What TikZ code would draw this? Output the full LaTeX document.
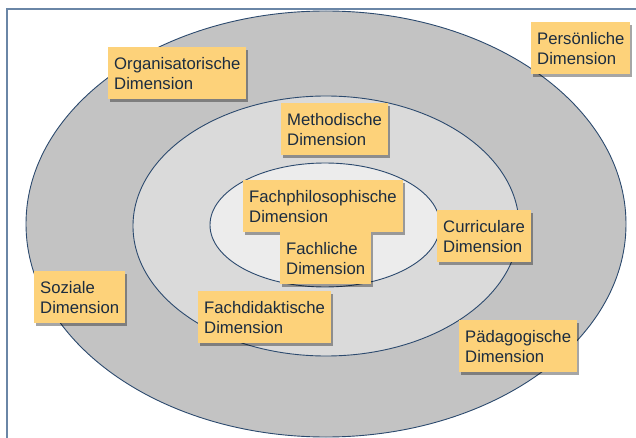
\documentclass[tikz,border=0pt]{standalone}
\usepackage{fontspec}
\setmainfont{Liberation Sans}
\usetikzlibrary{positioning,shadows}
\definecolor{ringline}{HTML}{2C4A6E}
\definecolor{framecol}{HTML}{6A86A6}
\definecolor{outerring}{HTML}{C3C3C3}
\definecolor{midring}{HTML}{DADADA}
\definecolor{innerring}{HTML}{ECECEC}
\definecolor{notefill}{HTML}{FDD27A}
\definecolor{notetext}{HTML}{1B2C40}

\begin{document}
\begin{tikzpicture}[x=1pt, y=-1pt,
    ring/.style={draw=ringline, line width=0.9pt},
    note/.style={rectangle, fill=notefill, text=notetext, anchor=north west, align=left,
        inner xsep=6pt, inner ysep=0pt, minimum height=52pt,
        font=\fontsize{16.7}{20}\selectfont,
        drop shadow={shadow xshift=2pt, shadow yshift=-3pt, opacity=0.35, fill=black}}]
    \clip (0,0) rectangle (636,438);
    \useasboundingbox (0,0) rectangle (636,438);
    \draw[framecol, line width=1.2pt] (7,9) rectangle (660,460);
    \filldraw[ring, fill=outerring] (326,224) ellipse [x radius=300, y radius=213];
    \filldraw[ring, fill=midring] (326,226) ellipse [x radius=193, y radius=130];
    \filldraw[ring, fill=innerring] (325,225) ellipse [x radius=115, y radius=62];

    \node[note] (orga) at (108,47) {Organisatorische\\Dimension};
    \node[note] (pers) at (531,22) {Persönliche\\Dimension};
    \node[note] (meth) at (281,103) {Methodische\\Dimension};
    \node[note] (phil) at (243,180) {Fachphilosophische\\Dimension};
    \node[note] (curr) at (437,210) {Curriculare\\Dimension};
    \node[note] (fach) at (280,232) {Fachliche\\Dimension};
    \node[note] (soz) at (34,271) {Soziale\\Dimension};
    \node[note] (didak) at (198,291) {Fachdidaktische\\Dimension};
    \node[note] (paed) at (459,320) {Pädagogische\\Dimension};
\end{tikzpicture}
\end{document}
